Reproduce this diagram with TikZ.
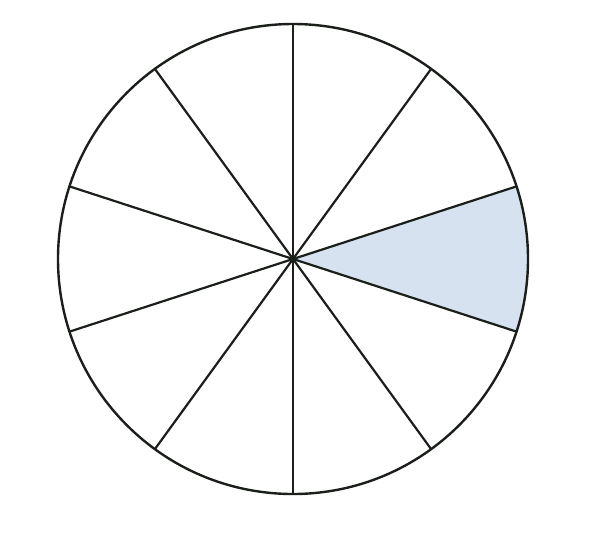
\documentclass[tikz,border=0pt]{standalone}
\definecolor{sectorblue}{HTML}{D6E2F0}
\definecolor{ink}{HTML}{1A1F1A}
\tikzset{spoke/.style={draw=ink,line width=2.2pt}, rim/.style={draw=ink,line width=2.4pt}}
\begin{document}
\begin{tikzpicture}[x=1pt,y=-1pt]
\useasboundingbox (0,0) rectangle (596,550);
\coordinate (c) at (293,259);
\fill[fill=sectorblue] (c) -- ++(-18:235) arc[start angle=-18,end angle=18,radius=235] -- cycle;
\foreach \a in {90,54,18,-18,-54,-90,-126,-162,162,126}{
  \draw[spoke] (c) -- ++(\a:235);
}
\draw[rim] (c) circle[radius=235];
\end{tikzpicture}
\end{document}
